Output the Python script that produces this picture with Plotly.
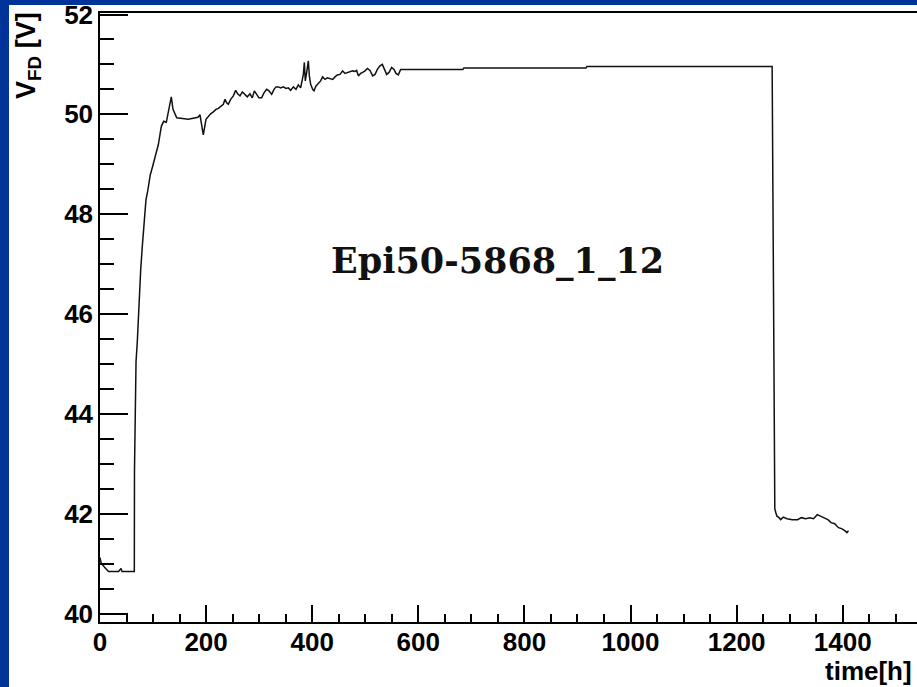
import plotly.graph_objects as go

# ---------------- data ----------------
t_pre = [0, 1, 2, 9, 16, 25, 35, 39.6, 41.5, 50, 64.7]
v_pre = [41.12, 41.05, 41.02, 40.92, 40.84, 40.84, 40.84, 40.90, 40.84, 40.84, 40.84]

t_rise = [65.0, 67.9, 70.3, 73.5, 76.7, 79.7, 83.5, 86.7, 89.9, 94.8, 99.3, 103.7,
          109.9, 115.6, 120.1, 125.0, 129.5, 134.4, 137.6, 144.6, 166.4, 184.7,
          188.5, 194.7]
v_rise = [42.85, 45.04, 45.44, 46.31, 46.88, 47.35, 47.98, 48.29, 48.46, 48.79, 48.96, 49.12,
          49.39, 49.76, 49.86, 49.84, 50.06, 50.35, 50.10, 49.93, 49.90, 49.94,
          49.99, 49.59]

t_noisy = [199.8, 204.2, 208.6, 213.6, 218.7, 223.1, 227.5, 232.5, 235.6, 238.8, 241.9,
           246.3, 251.3, 255.7, 259.5, 263.9, 268.3, 273.3, 277.7, 282.7, 287.1, 290.9,
           295.3, 299.7, 304.7, 309.1, 314.2, 318.6, 323.6, 328.0, 331.8, 336.2, 340.5,
           345.6, 350.6, 355.0, 359.4, 364.4, 369.5, 373.8, 378.2, 380.8, 383.3, 385.2,
           387.0, 389.6, 392.7, 394.6, 397.1, 400.9, 403.4, 407.2, 411.5, 415.9, 419.7,
           424.1, 428.5, 433.5, 438.6, 443.0, 447.4, 452.4, 457.4, 461.8, 466.2, 471.2,
           476.3, 480.7, 483.8, 487.0, 491.3, 495.1, 499.5, 504.1, 508.9, 514.0, 518.4,
           522.8, 527.8, 532.2, 536.0, 540.4, 544.8, 549.8, 554.2, 558.0, 562.3, 566.7]
v_noisy = [49.90, 49.96, 50.01, 50.05, 50.10, 50.12, 50.16, 50.20, 50.30, 50.23, 50.20,
           50.30, 50.37, 50.48, 50.41, 50.37, 50.45, 50.40, 50.35, 50.41, 50.33, 50.47,
           50.39, 50.33, 50.33, 50.43, 50.50, 50.47, 50.40, 50.50, 50.55, 50.55, 50.53,
           50.55, 50.52, 50.53, 50.48, 50.55, 50.50, 50.59, 50.53, 50.67, 50.80, 51.04,
           50.67, 50.84, 51.07, 50.77, 50.60, 50.50, 50.47, 50.57, 50.63, 50.67, 50.75,
           50.70, 50.73, 50.72, 50.70, 50.75, 50.79, 50.80, 50.87, 50.82, 50.84, 50.86,
           50.87, 50.86, 50.88, 50.77, 50.82, 50.84, 50.87, 50.92, 50.88, 50.77, 50.80,
           50.90, 50.97, 51.00, 50.90, 50.80, 50.84, 50.94, 50.90, 50.82, 50.79, 50.90]

t_flat = [571.8, 684.0, 686.0, 916.0, 918.0, 1267.0]
v_flat = [50.90, 50.90, 50.93, 50.93, 50.96, 50.96]

t_tail = [1269.5, 1272.0, 1274.0, 1276, 1280, 1283, 1288, 1295, 1305, 1315, 1322, 1330,
          1338, 1345, 1352, 1358, 1365, 1372, 1378, 1385, 1392, 1398, 1404, 1408, 1411]
v_tail = [46.60, 42.10, 42.02, 41.95, 41.92, 41.88, 41.93, 41.90, 41.88, 41.88, 41.92, 41.90,
          41.92, 41.90, 41.98, 41.95, 41.90, 41.88, 41.82, 41.80, 41.72, 41.70, 41.66, 41.62, 41.66]

time_h = t_pre + t_rise + t_noisy + t_flat + t_tail
vfd = v_pre + v_rise + v_noisy + v_flat + v_tail

x_ticks = [0, 200, 400, 600, 800, 1000, 1200, 1400]
y_ticks = [40, 42, 44, 46, 48, 50, 52]

# ---------------- figure ----------------
W, H = 917, 687
ML, MR, MT, MB = 100, 0, 13, 65
PW, PH = W - ML - MR, H - MT - MB

BLUE = "#003399"
AXFONT = dict(family="Liberation Sans, Arial, sans-serif", size=26, color="black", weight="bold")

fig = go.Figure()
fig.add_trace(go.Scatter(x=time_h, y=vfd, mode="lines",
                         line=dict(color="#111111", width=1.5), showlegend=False,
                         hoverinfo="skip"))

def px2paper_x(px):
    return (px - ML) / PW

def px2paper_y(py):
    return (H - MB - py) / PH

# white canvas pad
fig.add_shape(type="rect", xref="paper", yref="paper",
              x0=px2paper_x(9), x1=px2paper_x(W + 5), y0=px2paper_y(H + 5), y1=px2paper_y(5),
              fillcolor="white", line=dict(width=0), layer="below")

fig.update_layout(
    width=W, height=H,
    margin=dict(l=ML, r=MR, t=MT, b=MB, pad=0),
    paper_bgcolor=BLUE, plot_bgcolor="white",
    showlegend=False,
)

fig.update_xaxes(
    range=[0, PW / 0.5305], tickvals=x_ticks, ticktext=[str(v) for v in x_ticks],
    ticks="inside", ticklen=17, tickwidth=1.5, tickcolor="black",
    minor=dict(dtick=50, tick0=0, ticks="inside", ticklen=8, tickwidth=1.5, tickcolor="black"),
    showline=True, linecolor="black", linewidth=1.5, mirror=True,
    showgrid=False, zeroline=False, tickfont=AXFONT,
    ticklabelstandoff=-4, ticklabeloverflow="allow",
)
fig.update_yaxes(
    range=[39.83, 52.03], tickvals=y_ticks, ticktext=[str(v) for v in y_ticks],
    ticks="inside", ticklen=28, tickwidth=1.5, tickcolor="black",
    minor=dict(dtick=0.5, tick0=40, ticks="inside", ticklen=14, tickwidth=1.5, tickcolor="black"),
    showline=True, linecolor="black", linewidth=1.5, mirror=False,
    showgrid=False, zeroline=False, tickfont=AXFONT,
    ticklabeloverflow="allow",
)

# axis titles
fig.add_annotation(xref="paper", yref="paper", x=px2paper_x(28), y=px2paper_y(56),
                   text="V<sub>FD</sub> [V]", textangle=-90, showarrow=False,
                   xanchor="center", yanchor="middle",
                   font=dict(family="Liberation Sans, Arial, sans-serif", size=27,
                             color="black", weight="bold"))
fig.add_annotation(xref="paper", yref="paper", x=px2paper_x(914), y=px2paper_y(671),
                   text="time[h]", showarrow=False, xanchor="right", yanchor="middle",
                   font=dict(family="Liberation Sans, Arial, sans-serif", size=26,
                             color="black", weight="bold"))

# sample label
fig.add_annotation(xref="x", yref="y", x=749, y=47.08, text="Epi50-5868_1_12",
                   showarrow=False, xanchor="center", yanchor="middle",
                   font=dict(family="DejaVu Serif, serif", size=35, color="#111111",
                             weight="bold"))

fig.write_html("out.html")
